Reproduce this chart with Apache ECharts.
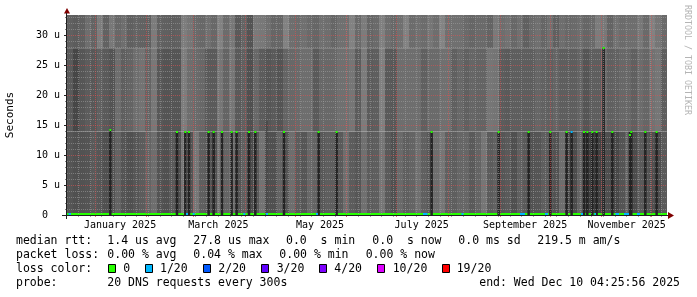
<!DOCTYPE html>
<html><head><meta charset="utf-8">
<script src="https://cdn.jsdelivr.net/npm/echarts@6/dist/echarts.min.js"></script>
<style>html,body{margin:0;padding:0;background:#fff}#c{width:697px;height:297px}</style>
</head><body><div id="c"></div>
<script>
// ---------- data ----------
const rangeStart = '2024-12-15T04:25:56Z';
const rangeEnd = '2025-12-10T04:25:56Z';
// RTT band edges (µs) between which the smoke is drawn
const bandEdges = [0, 13.9, 27.8, 33.333];
// smoke shade (0-255 grey level) of each time bucket, per band
const smokeLow = [85,80,82,84,90,86,80,84,100,84,80,86,92,100,110,84,80,
  90,80,120,85,118,95,90,82,115,100,110,84,96,76,90,115,80,
  80,100,85,110,92,86,104,100,88,94,94,90,110,92,86,112,92,
  94,118,90,80,106,95,100,112,96,88,110,118,96,94,102,102,90,
  100,118,92,98,86,90,80,96,90,82,85,94,90,82,110,78,76,
  100,66,64,66,80,78,72,84,100,76,90,86,80,78,90];
const smokeMid = [90,70,86,92,88,96,90,84,110,95,100,110,115,100,120,88,84,
  85,85,125,110,106,104,90,90,118,100,118,90,96,80,104,92,86,
  90,84,100,104,106,110,110,90,104,104,104,112,112,118,92,124,92,
  94,128,90,88,110,110,110,110,96,106,106,112,112,96,104,96,102,
  100,100,118,116,92,90,94,94,94,94,102,98,96,100,94,94,94,
  100,85,94,94,110,96,98,104,104,96,108,102,114,118,94];
const smokeTop = [96,92,96,110,100,125,98,120,104,110,96,100,98,96,124,98,96,
  94,96,125,118,106,104,112,104,130,108,120,90,100,84,122,120,112,
  102,102,130,110,108,112,106,102,112,110,102,112,112,130,106,124,102,
  106,128,110,104,112,130,108,112,108,118,110,132,112,112,112,106,102,
  106,106,100,122,110,114,104,112,96,106,112,102,112,96,110,104,106,
  110,102,106,124,120,100,114,108,110,110,120,106,130,118,106];
// dark smoke spikes (median raised) : time, smoke top (µs), median (µs), loss index, shade
const spikeTimes = ['2025-01-10 04','2025-02-19 04','2025-02-24 04','2025-02-26 09','2025-03-10 04',
  '2025-03-13 04','2025-03-18 04','2025-03-23 23','2025-03-26 23','2025-04-03 09','2025-04-07 04',
  '2025-04-13 23','2025-04-24 09','2025-05-15 04','2025-05-25 23','2025-07-21 23','2025-08-31 04',
  '2025-09-18 04','2025-10-01 04','2025-10-10 23','2025-10-13 23','2025-10-21 09','2025-10-23 09',
  '2025-10-26 09','2025-10-28 23','2025-11-02 04','2025-11-07 09','2025-11-17 23','2025-11-18 18',
  '2025-11-27 04','2025-12-03 23'];
const spikeTop = [14.2,13.9,13.9,13.9,13.9,13.9,13.9,13.9,13.9,13.9,13.9,15.7,13.9,13.9,13.9,13.9,13.9,
  13.9,13.9,13.9,13.9,13.9,13.9,13.9,13.9,27.8,13.9,13.9,13.9,13.9,13.9];
const spikeMedian = [14.2,13.9,13.9,13.9,13.9,13.9,13.9,13.9,13.9,13.9,13.9,null,13.9,13.9,13.9,13.9,13.9,
  13.9,13.9,13.9,13.9,13.9,13.9,13.9,13.9,27.8,13.9,13.3,13.9,13.9,13.9];
const spikeLoss = [0,0,0,0,0,0,0,0,0,0,0,0,0,0,0,0,0,0,0,0,1,0,0,0,0,0,0,0,0,0,0];
const spikeShade = [36,36,36,36,36,36,36,36,36,36,36,74,36,36,36,36,36,36,36,36,36,36,36,36,36,36,36,36,36,36,36];
// baseline median (µs) over the whole range
const baseMedian = 0;
// periods with 1/20 packet loss on the baseline median
const lossPeriods = [
  ['2024-12-16 02','2024-12-17 14'],['2025-02-24 14','2025-02-25 19'],['2025-02-28 14','2025-03-01 19'],
  ['2025-03-30 23','2025-04-01 04'],['2025-04-13 14','2025-04-14 19'],['2025-05-13 14','2025-05-14 19'],
  ['2025-07-16 19','2025-07-19 12'],['2025-08-08 21','2025-08-10 02'],['2025-09-12 23','2025-09-15 23'],
  ['2025-09-27 23','2025-09-29 18'],['2025-10-19 14','2025-10-20 19'],['2025-10-27 16','2025-10-28 14'],
  ['2025-11-09 07','2025-11-11 09'],['2025-11-14 09','2025-11-17 09'],['2025-11-22 04','2025-11-23 23']];
// axes
const monthStarts = ['2025-01-01','2025-02-01','2025-03-01','2025-04-01','2025-05-01','2025-06-01',
  '2025-07-01','2025-08-01','2025-09-01','2025-10-01','2025-11-01','2025-12-01'];
const monthLabelDates = ['2025-01-16','2025-03-16','2025-05-16','2025-07-16','2025-09-16','2025-11-16'];
const monthLabels = ['January 2025','March 2025','May 2025','July 2025','September 2025','November 2025'];
const yTicks = [0,5,10,15,20,25,30];
const yLabels = ['0  ','5 u','10 u','15 u','20 u','25 u','30 u'];
const yMinor = [1,2,3,4,6,7,8,9,11,12,13,14,16,17,18,19,21,22,23,24,26,27,28,29,31,32,33];
// legend
const statRows = [
  ['median rtt:', '1.4 us avg', '27.8 us max', '0.0  s min', '0.0  s now', '0.0 ms sd', '219.5 m am/s'],
  ['packet loss:', '0.00 % avg', '0.04 % max', '0.00 % min', '0.00 % now']
];
const lossLabels = ['0','1/20','2/20','3/20','4/20','10/20','19/20'];
const lossColors = ['#26ff00','#00b8ff','#0059ff','#5e00ff','#7e00ff','#dd00ff','#ff0000'];
const probeText = '20 DNS requests every 300s';
const endText = 'end: Wed Dec 10 04:25:56 2025';

// ---------- build ----------
const DAY = 86400000;
const P = s => { const [d, h] = s.split(' '); return Date.parse(d + 'T' + (h || '00') + ':00:00Z'); };
const t0 = Date.parse(rangeStart), t1 = Date.parse(rangeEnd);
const step = (t1 - t0) / smokeTop.length;
const smokeData = [];
[smokeLow, smokeMid, smokeTop].forEach((arr, b) => {
  arr.forEach((g, i) => smokeData.push([t0 + i * step, t0 + (i + 1) * step, bandEdges[b], bandEdges[b + 1], g]));
});
const spikeData = spikeTimes.map((s, i) => [P(s) - 0.75 * DAY, P(s) + 0.75 * DAY, 0, spikeTop[i], spikeShade[i]]);
const dotData = [];
spikeTimes.forEach((s, i) => { if (spikeMedian[i] != null) dotData.push([P(s) - 0.6 * DAY, P(s) + 0.6 * DAY, spikeMedian[i], spikeLoss[i]]); });
const baseData = [[t0, t1, baseMedian, 0]];
const lossData = lossPeriods.map(p => [P(p[0]), P(p[1]), baseMedian, 1]);
const monthTs = monthStarts.map(P);
const labelTs = monthLabelDates.map(P);
const weekTs = [];
for (let t = P('2024-12-22'); t < t1; t += 7 * DAY) weekTs.push(t);

const FONT = '"DejaVu Sans Mono", monospace';

function rectItem(params, api) {
  const a = api.coord([api.value(0), api.value(2)]);
  const b = api.coord([api.value(1), api.value(3)]);
  const g = api.value(4);
  return { type: 'rect', shape: { x: a[0], y: b[1], width: b[0] - a[0], height: a[1] - b[1] },
    style: { fill: 'rgb(' + g + ',' + g + ',' + g + ')' } };
}
function medianItem(params, api) {
  const a = api.coord([api.value(0), api.value(2)]);
  const b = api.coord([api.value(1), api.value(2)]);
  const bottom = params.coordSys.y + params.coordSys.height;
  const y = Math.min(Math.round(a[1]) - 1, bottom - 2);
  return { type: 'rect', shape: { x: a[0], y: y, width: b[0] - a[0], height: 2 },
    style: { fill: lossColors[api.value(3)] } };
}

const graphic = [];
const legendFont = '11.5px ' + FONT;
const rowY = [241.5, 255.5, 269.5, 283.5];
const rowX = [[16, 107.3, 193.3, 286, 372.3, 458.3, 537.3], [16, 107.3, 193.3, 279.3, 365.7]];
statRows.forEach((row, r) => row.forEach((txt, k) => graphic.push({
  type: 'text', x: rowX[r][k], y: rowY[r], style: { text: txt, font: legendFont, fill: '#000', verticalAlign: 'middle' } })));
graphic.push({ type: 'text', x: 16, y: rowY[2], style: { text: 'loss color:', font: legendFont, fill: '#000', verticalAlign: 'middle' } });
const boxX = [108.5, 145.5, 203.5, 261.5, 319.5, 377.5, 442.5];
const boxTextX = [123.3, 160, 218.3, 276.7, 334.3, 392.7, 456.7];
lossLabels.forEach((l, i) => {
  graphic.push({ type: 'rect', shape: { x: boxX[i], y: 264.5, width: 7, height: 8 },
    style: { fill: lossColors[i], stroke: '#000', lineWidth: 1 } });
  graphic.push({ type: 'text', x: boxTextX[i], y: rowY[2], style: { text: l, font: legendFont, fill: '#000', verticalAlign: 'middle' } });
});
graphic.push({ type: 'text', x: 16, y: rowY[3], style: { text: 'probe:', font: legendFont, fill: '#000', verticalAlign: 'middle' } });
graphic.push({ type: 'text', x: 107.3, y: rowY[3], style: { text: probeText, font: legendFont, fill: '#000', verticalAlign: 'middle' } });
graphic.push({ type: 'text', x: 680, y: rowY[3], style: { text: endText, font: legendFont, fill: '#000', align: 'right', verticalAlign: 'middle' } });
graphic.push({ type: 'text', x: 687, y: 60, rotation: -Math.PI / 2,
  style: { text: 'RRDTOOL / TOBI OETIKER', font: '8.3px ' + FONT, fill: '#b4b4b4', align: 'center', verticalAlign: 'middle' } });
// axis arrows / extensions
graphic.push({ type: 'polygon', shape: { points: [[64, 13.5], [70, 13.5], [67, 8]] }, style: { fill: '#7f0000' }, z: 20 });
graphic.push({ type: 'polygon', shape: { points: [[668, 212], [668, 219], [674, 215.5]] }, style: { fill: '#7f0000' }, z: 20 });
graphic.push({ type: 'line', shape: { x1: 62, y1: 215.5, x2: 668, y2: 215.5 }, style: { stroke: '#202020', lineWidth: 1 }, z: 20 });
graphic.push({ type: 'line', shape: { x1: 66.5, y1: 219, x2: 66.5, y2: 13 }, style: { stroke: '#202020', lineWidth: 1 }, z: 20 });

const chart = echarts.init(document.getElementById('c'), null, { renderer: 'canvas' });
chart.setOption({
  animation: false,
  backgroundColor: '#ffffff',
  grid: { left: 67, top: 15, width: 600, height: 200, containLabel: false, outerBoundsMode: 'none' },
  xAxis: [{
    type: 'value', min: t0, max: t1, z: 6,
    axisLine: { show: false },
    axisTick: { show: true, customValues: monthTs, length: 2, lineStyle: { color: 'rgba(222,80,80,0.8)' } },
    axisLabel: { customValues: labelTs, margin: 5, color: '#000', fontFamily: FONT, fontSize: 10,
      formatter: v => { const i = labelTs.findIndex(t => Math.abs(t - v) < 60000); return i >= 0 ? monthLabels[i] : ''; } },
    splitLine: { show: true, lineStyle: { color: 'rgba(222,80,80,0.6)', type: [1, 1], width: 1 } }
  }, {
    type: 'value', min: t0, max: t1, z: 5, position: 'bottom',
    axisLine: { show: false }, axisLabel: { show: false },
    axisTick: { show: true, customValues: weekTs, length: 2, lineStyle: { color: 'rgba(143,143,143,0.8)' } },
    splitLine: { show: true, lineStyle: { color: 'rgba(160,160,160,0.55)', type: [1, 1], width: 1 } }
  }],
  yAxis: [{
    type: 'value', min: 0, max: bandEdges[3], z: 6,
    name: 'Seconds', nameLocation: 'middle', nameGap: 51, nameRotate: 90,
    nameTextStyle: { fontFamily: FONT, fontSize: 11, color: '#000' },
    axisLine: { show: false },
    axisTick: { show: true, customValues: yTicks, length: 3, lineStyle: { color: '#202020' } },
    axisLabel: { customValues: yTicks, margin: 7, color: '#000', fontFamily: FONT, fontSize: 10,
      formatter: v => { const i = yTicks.indexOf(Math.round(v)); return i >= 0 ? yLabels[i] : ''; } },
    splitLine: { show: true, lineStyle: { color: 'rgba(222,80,80,0.6)', type: [1, 1], width: 1 } }
  }, {
    type: 'value', min: 0, max: bandEdges[3], z: 5, position: 'left', offset: 0,
    axisLine: { show: false }, axisLabel: { show: false },
    axisTick: { show: true, customValues: yMinor, length: 2, lineStyle: { color: 'rgba(100,100,100,0.8)' } },
    splitLine: { show: true, lineStyle: { color: 'rgba(160,160,160,0.55)', type: [1, 1], width: 1 } }
  }],
  series: [
    { type: 'custom', name: 'smoke', xAxisIndex: 0, yAxisIndex: 0, clip: true, z: 2,
      encode: { x: [0, 1], y: [2, 3] }, renderItem: rectItem, data: smokeData },
    { type: 'custom', name: 'baseline', xAxisIndex: 0, yAxisIndex: 0, clip: true, z: 3,
      encode: { x: [0, 1], y: 2 }, renderItem: medianItem, data: baseData },
    { type: 'custom', name: 'spikes', xAxisIndex: 0, yAxisIndex: 0, clip: true, z: 4,
      encode: { x: [0, 1], y: [2, 3] }, renderItem: rectItem, data: spikeData },
    { type: 'custom', name: 'loss', xAxisIndex: 0, yAxisIndex: 0, clip: true, z: 7,
      encode: { x: [0, 1], y: 2 }, renderItem: medianItem, data: lossData },
    { type: 'custom', name: 'median', xAxisIndex: 0, yAxisIndex: 0, clip: true, z: 7,
      encode: { x: [0, 1], y: 2 }, renderItem: medianItem, data: dotData }
  ],
  graphic: graphic
});
</script></body></html>
